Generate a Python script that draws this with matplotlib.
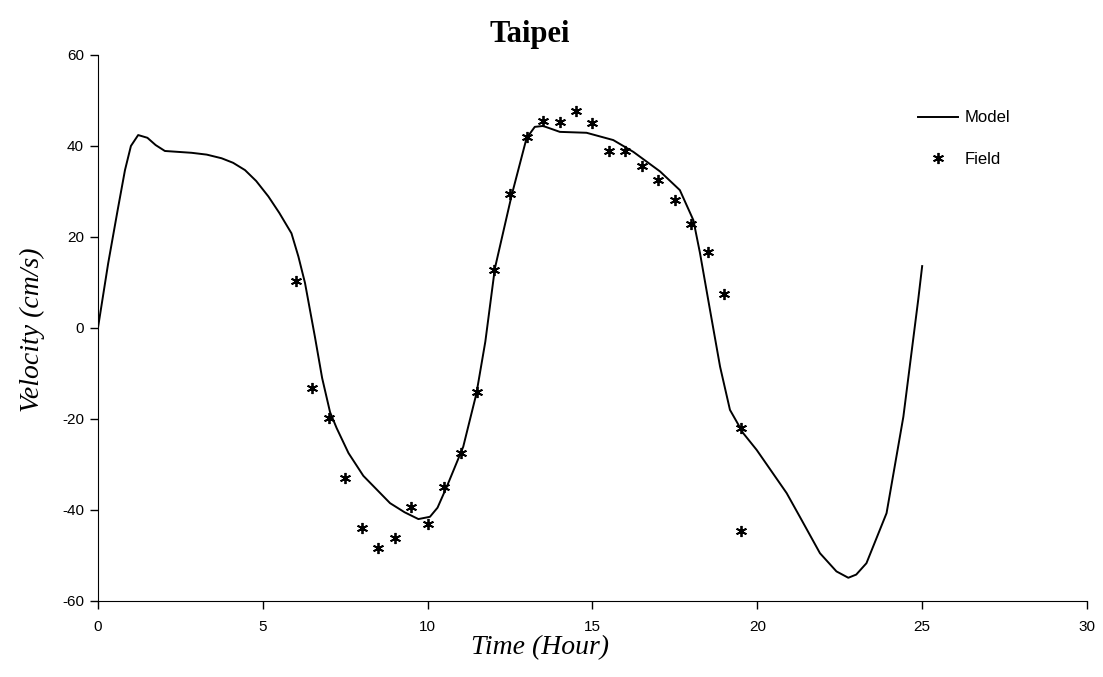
import matplotlib.pyplot as plt

# model curve
model_time = [0, 0.31, 0.6, 0.82, 1.0, 1.22, 1.5, 1.75, 2.03, 2.84, 3.3, 3.75,
              4.1, 4.46, 4.8, 5.17, 5.5, 5.87, 6.08, 6.28, 6.58, 6.8, 7.04, 7.24,
              7.6, 8.05, 8.86, 9.3, 9.72, 10.07, 10.3, 10.58, 11.08, 11.48, 11.75,
              12.04, 12.55, 13.0, 13.25, 13.5, 14.01, 14.82, 15.63, 16.24, 17.05,
              17.65, 18.06, 18.26, 18.51, 18.87, 19.17, 19.57, 19.98, 20.89, 21.29,
              21.9, 22.4, 22.76, 23.0, 23.31, 23.92, 24.43, 24.88, 25.0]
model_vel = [0, 14.2, 26, 34.7, 40, 42.4, 41.8, 40.2, 38.9, 38.5, 38.1, 37.3,
             36.3, 34.7, 32.3, 28.9, 25.3, 20.8, 15.7, 9.9, -1.9, -11, -18.5, -22,
             -27.5, -32.5, -38.5, -40.5, -42, -41.5, -39.5, -34.9, -26.1, -14.4,
             -3, 13.1, 29.2, 41.7, 44.2, 44.4, 43.1, 42.9, 41.3, 38.7, 34.4,
             30.3, 23.7, 16.5, 6.2, -8.5, -18, -23.1, -26.8, -36.3, -41.5,
             -49.5, -53.5, -54.9, -54.2, -51.7, -40.7, -19.5, 6.2, 13.6]

# field measurements
field_time = [6.0, 6.5, 7.0, 7.5, 8.0, 8.5, 9.0, 9.5, 10.0, 10.5, 11.0, 11.5,
              12.0, 12.5, 13.0, 13.5, 14.0, 14.5, 15.0, 15.5, 16.0, 16.5, 17.0,
              17.5, 18.0, 18.5, 19.0, 19.5, 19.5]
field_vel = [10.3, -13.2, -19.8, -33, -44, -48.4, -46.2, -39.3, -43.1, -35,
             -27.5, -14.1, 12.7, 29.5, 42, 45.5, 45.3, 47.7, 45, 38.9, 38.9,
             35.6, 32.5, 28.1, 22.9, 16.7, 7.5, -22, -44.6]

plt.rcParams['font.family'] = ['Liberation Sans', 'DejaVu Sans']
plt.rcParams['axes.unicode_minus'] = False

fig = plt.figure(figsize=(11.03, 6.77), dpi=100)
ax = fig.add_axes([0.0888, 0.1123, 0.8967, 0.8065])

ax.plot(model_time, model_vel, color='black', linewidth=1.4, label='Model')
ax.plot(field_time, field_vel, linestyle='none', marker=(6, 2, 0),
        markersize=8, markeredgewidth=1.3, color='black', label='Field')

ax.set_xlim(0, 30)
ax.set_ylim(-60, 60)
ax.set_xticks(range(0, 31, 5))
ax.set_yticks(range(-60, 61, 20))
ax.tick_params(direction='out', length=6, width=1, labelsize=11, pad=4)
ax.tick_params(axis='x', pad=8)
for side in ['top', 'right']:
    ax.spines[side].set_visible(False)

ax.legend(loc='upper left', bbox_to_anchor=(0.814, 0.926), frameon=False,
          fontsize=12, handlelength=2.4, labelspacing=1.6, handletextpad=0.4)

serif = ['Liberation Serif', 'DejaVu Serif']
fig.text(0.4805, 0.949, 'Taipei', ha='center', va='center', fontsize=22,
         fontweight='bold', family=serif)
fig.text(0.49, 0.044, 'Time (Hour)', ha='center', va='center', fontsize=20,
         style='italic', family=serif)
fig.text(0.029, 0.513, 'Velocity (cm/s)', ha='center', va='center', fontsize=20,
         style='italic', rotation=90, family=serif)

fig.savefig('out.png', dpi=100)
